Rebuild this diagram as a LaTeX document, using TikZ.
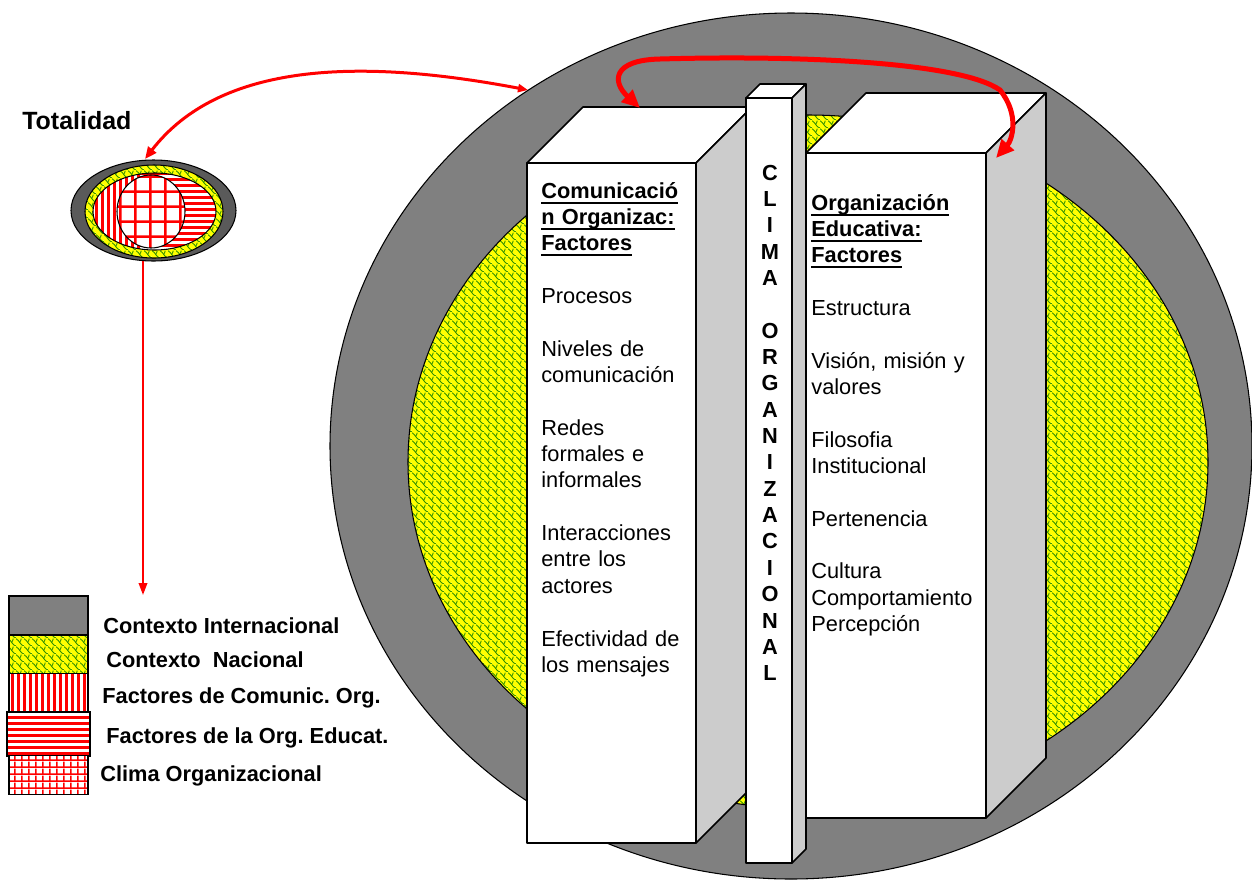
\documentclass[tikz,border=0pt]{standalone}
\usepackage{fontspec}
\setmainfont{Liberation Sans}
\usepackage{xcolor}
\usepackage{tikz}
\usetikzlibrary{arrows.meta,patterns.meta,positioning}
\frenchspacing
\definecolor{cred}{HTML}{FF0000}
\definecolor{cgray}{HTML}{808080}
\definecolor{cdark}{HTML}{5A5A5A}
\definecolor{cshade}{HTML}{CCCCCC}
\definecolor{cyellow}{HTML}{FFFF00}
\definecolor{cgreen}{HTML}{2F8F00}
\tikzdeclarepattern{name=cnac, type=colored,
  bottom left={(0pt,0pt)}, top right={(4.6pt,4.6pt)}, tile size={(4.6pt,4.6pt)},
  code={\draw[cgreen, line width=0.55pt] (0pt,4.6pt) .. controls (1.6pt,4.6pt) and (1.4pt,2.3pt) .. (2.3pt,2.3pt)
          .. controls (3.2pt,2.3pt) and (3pt,0pt) .. (4.6pt,0pt);
        \draw[cgreen, line width=0.55pt] (2.3pt,2.3pt) .. controls (2.9pt,3pt) and (3.2pt,4pt) .. (3.3pt,4.6pt);}}
\tikzdeclarepattern{name=cvert, type=colored,
  bottom left={(0pt,0pt)}, top right={(3.4pt,3.4pt)}, tile size={(3.4pt,3.4pt)},
  code={\fill[cred] (0pt,0pt) rectangle (1.7pt,3.4pt);}}
\tikzdeclarepattern{name=chori, type=colored,
  bottom left={(0pt,0pt)}, top right={(3.4pt,3.4pt)}, tile size={(3.4pt,3.4pt)},
  code={\fill[cred] (0pt,0pt) rectangle (3.4pt,1.7pt);}}
\tikzdeclarepattern{name=cgrid, type=colored,
  bottom left={(0pt,0pt)}, top right={(4pt,4pt)}, tile size={(4pt,4pt)},
  code={\fill[cred] (0pt,0pt) rectangle (1.1pt,4pt); \fill[cred] (0pt,0pt) rectangle (4pt,1.1pt);}}
\tikzdeclarepattern{name=cgridbig, type=colored,
  bottom left={(0pt,0pt)}, top right={(8.5pt,8.5pt)}, tile size={(8.5pt,8.5pt)},
  code={\fill[cred] (0pt,0pt) rectangle (1.5pt,8.5pt); \fill[cred] (0pt,0pt) rectangle (8.5pt,1.5pt);}}
\newcommand\cund[1]{\leavevmode\setbox0\hbox{\bfseries #1}\rlap{\rule[-3.2pt]{\wd0}{1.1pt}}\box0}
\tikzset{
  cring/.style={draw=black, line width=0.6pt},
  cnacfill/.style={preaction={fill=cyellow}, pattern=cnac},
  cbody/.style={fill=white, draw=black, line width=0.9pt, line join=round},
  cside/.style={fill=cshade, draw=black, line width=0.9pt, line join=round},
  ctxt/.style={font=\fontsize{12.4}{15}\selectfont, text width=3.4cm, align=left,
               inner sep=0pt, anchor=base west},
  cclima/.style={font=\bfseries\fontsize{12.4}{15}\selectfont, text width=1cm, align=center,
                 inner sep=0pt, anchor=base},
  clbl/.style={font=\bfseries\fontsize{12.4}{15}\selectfont, inner sep=0pt, anchor=base west},
  legbox/.style={draw=black, line width=0.9pt, minimum width=1.58cm, minimum height=0.78cm,
                 inner sep=0pt, outer sep=0pt},
  cabig/.style={{Triangle[length=0.36cm,width=0.32cm]}-{Triangle[length=0.36cm,width=0.32cm]},
                cred, line width=0.1cm},
  camid/.style={{Triangle[length=0.24cm,width=0.2cm]}-{Triangle[length=0.2cm,width=0.16cm]},
                cred, line width=0.06cm},
  cathin/.style={-{Triangle[length=0.24cm,width=0.17cm]}, cred, line width=0.04cm},
}
\begin{document}
\begin{tikzpicture}[x=0.02cm,y=-0.02cm]
  \useasboundingbox (0,0) rectangle (1252,880);

  % contextos
  \draw[cring, fill=cgray] (791,446) ellipse [x radius=461, y radius=433];
  \draw[cring, cnacfill] (808,462) ellipse [x radius=400, y radius=347];

  % columna izquierda
  \draw[cbody] (527,163) rectangle (696,843);
  \draw[cbody] (527,163) -- (583,107) -- (752,107) -- (696,163) -- cycle;
  \draw[cside] (696,163) -- (752,107) -- (752,787) -- (696,843) -- cycle;

  % columna derecha
  \draw[cbody] (806,153) rectangle (986,818);
  \draw[cbody] (806,153) -- (866,93) -- (1046,93) -- (986,153) -- cycle;
  \draw[cside] (986,153) -- (1046,93) -- (1046,758) -- (986,818) -- cycle;

  % clima
  \draw[cbody] (746,98) rectangle (792,863);
  \draw[cbody] (746,98) -- (760,84) -- (806,84) -- (792,98) -- cycle;
  \draw[cside] (792,98) -- (806,84) -- (806,849) -- (792,863) -- cycle;

  \node[ctxt] (comTxt) at (541,198) {%
    \cund{Comunicació}\\ \cund{n Organizac:}\\ \cund{Factores}\\[15pt]
    Procesos\\[15pt]
    Niveles de\\ comunicación\\[15pt]
    Redes\\ formales e\\ informales\\[15pt]
    Interacciones\\ entre los\\ actores\\[15pt]
    Efectividad de\\ los mensajes};
  \node[ctxt] (orgTxt) at (811,210) {%
    \cund{Organización}\\ \cund{Educativa:}\\ \cund{Factores}\\[15pt]
    Estructura\\[15pt]
    Visión, misión y\\ valores\\[15pt]
    Filosofia\\ Institucional\\[15pt]
    Pertenencia\\[15pt]
    Cultura\\ Comportamiento\\ Percepción};
  \node[cclima] (climaTxt) at (770,180) {%
    C\\ L\\ I\\ M\\ A\\[15pt]
    O\\ R\\ G\\ A\\ N\\ I\\ Z\\ A\\ C\\ I\\ O\\ N\\ A\\ L};

  % icono de la totalidad
  \node[font=\bfseries\fontsize{14.2}{17}\selectfont, inner sep=0pt, anchor=base west]
    (totTxt) at (22,129) {Totalidad};
  \draw[cring, fill=cdark] (153.5,210.5) ellipse [x radius=82.5, y radius=50.5];
  \draw[cring, cnacfill] (154,211.5) ellipse [x radius=69, y radius=46.5];
  \begin{scope}
    \clip (154.5,211.5) ellipse [x radius=61.5, y radius=38.5];
    \fill[white] (90,170) rectangle (220,255);
    \path[pattern=cvert] (90,170) rectangle (140,255);
    \path[pattern=chori] (140,170) rectangle (220,255);
    \draw[cring, preaction={fill=white}, pattern=cgridbig] (151,211.5) ellipse [x radius=34, y radius=36.5];
  \end{scope}
  \draw[cring] (154.5,211.5) ellipse [x radius=61.5, y radius=38.5];

  % leyenda
  \node[legbox, fill=cgray] (lgInt) at (48.5,615.5) {};
  \node[legbox, cnacfill] (lgNac) at (48.5,654.5) {};
  \node[legbox, preaction={fill=white}, pattern=cvert] (lgCom) at (48.5,693) {};
  \node[legbox, preaction={fill=white}, pattern=chori, minimum width=1.66cm,
        minimum height=0.88cm, line width=1.3pt] (lgEdu) at (48.5,734) {};
  \node[legbox, preaction={fill=white}, pattern=cgrid] (lgCli) at (48.5,775) {};
  \node[clbl] (lbInt) at (103,633) {Contexto Internacional};
  \node[clbl] (lbNac) at (106,667) {Contexto\ \ Nacional};
  \node[clbl] (lbCom) at (102,703) {Factores de Comunic. Org.};
  \node[clbl] (lbEdu) at (106,743) {Factores de la Org. Educat.};
  \node[clbl] (lbCli) at (100,781) {Clima Organizacional};

  % flechas
  \coordinate (comTop) at (640,108);
  \coordinate (orgTop) at (996,158);
  \coordinate (totTop) at (145,159);
  \coordinate (circL) at (528,90);
  \coordinate (totBot) at (143,261);
  \coordinate (legTop) at (143,595);
  \draw[cabig] (comTop) .. controls (612,82) and (612,60) .. (660,59)
    .. controls (800,55) and (960,62) .. (1000,90)
    .. controls (1020,115) and (1012,140) .. (orgTop);
  \draw[camid] (totTop) .. controls (220,62) and (360,58) .. (circL);
  \draw[cathin] (totBot) -- (legTop);

\end{tikzpicture}
\end{document}
